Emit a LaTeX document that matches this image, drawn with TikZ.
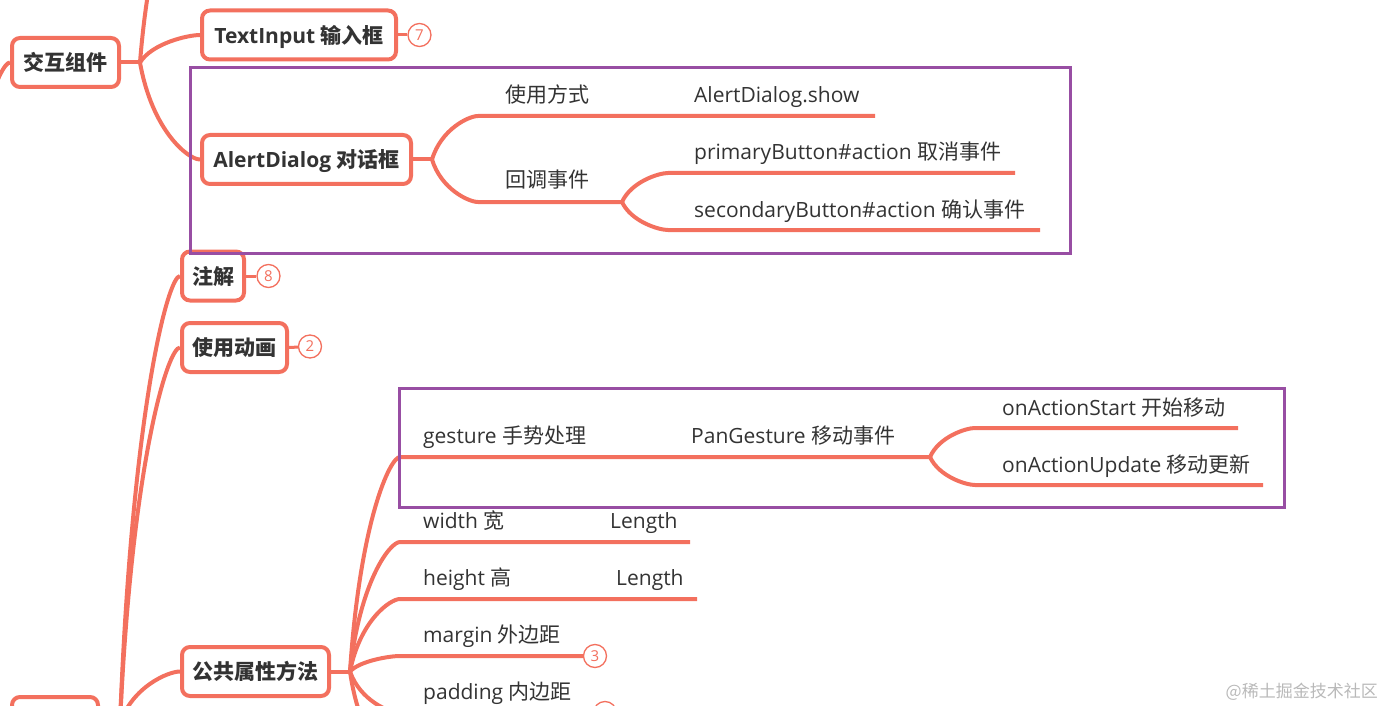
\documentclass[tikz,border=0pt]{standalone}
\usepackage{fontspec}
\setmainfont{Open Sans}
\newfontfamily\zh{Noto Sans CJK SC}
\usetikzlibrary{calc}
\definecolor{mindred}{RGB}{243,112,94}
\definecolor{boxpurple}{RGB}{152,78,163}
\definecolor{inkgray}{RGB}{51,51,51}
\definecolor{markgray}{RGB}{185,185,185}

\begin{document}
\begin{tikzpicture}[x=1pt,y=-1pt,
    branch/.style={draw=mindred,line width=4pt},
    mind/.style={to path={let \p1=(\tikztostart),\p2=(\tikztotarget) in
      .. controls ({\x1+0.2*(\x2-\x1)},{\y2+0.3*(\y1-\y2)}) and ({\x2-0.2*(\x2-\x1)},\y2) .. (\tikztotarget)}},
    badge/.style={circle,draw=mindred,line width=1.3pt,fill=white,minimum size=23pt,inner sep=0pt,
      text=mindred,font=\fontsize{15}{18}\selectfont,text height=10.7pt,text depth=0pt}]

  \useasboundingbox (0,0) rectangle (1382,706);
  \clip (0,0) rectangle (1382,706);

  \begin{scope}[every node/.style={draw=mindred,line width=4pt,rounded corners=8pt,fill=white,
      inner sep=0pt,minimum height=49pt,text=inkgray,font=\bfseries\fontsize{21}{25}\selectfont,
      text height=16.5pt,text depth=0pt}]
    \node[minimum width=107pt] (interact)  at (65.5,62.5)   {{\zh 交互组件}};
    \node[minimum width=194pt] (textinput) at (299,35)      {TextInput {\zh 输入框}};
    \node[minimum width=209pt] (alert)     at (306.5,159.5) {AlertDialog {\zh 对话框}};
    \node[minimum width=62pt]  (annot)     at (213,276)     {{\zh 注解}};
    \node[minimum width=105pt] (anim)      at (234.5,347.5) {{\zh 使用动画}};
    \node[minimum width=147pt] (common)    at (255.5,671.5) {{\zh 公共属性方法}};
    \node[minimum width=86pt,minimum height=53pt] (root) at (55,723.5) {};
  \end{scope}

  \begin{scope}[every node/.style={anchor=west,inner sep=0pt,text=inkgray,
      font=\fontsize{21}{25}\selectfont,text height=16pt,text depth=0pt}]
    \node (usage)     at (505,95)   {{\zh 使用方式}};
    \node (show)      at (694,95)   {AlertDialog.show};
    \node (callback)  at (505,180)  {{\zh 回调事件}};
    \node (primary)   at (694,152)  {primaryButton\#action {\zh 取消事件}};
    \node (secondary) at (694,209)  {secondaryButton\#action {\zh 确认事件}};
    \node (gesture)   at (423,435)  {gesture {\zh 手势处理}};
    \node (pan)       at (691,435)  {PanGesture {\zh 移动事件}};
    \node (start)     at (1002,407) {onActionStart {\zh 开始移动}};
    \node (update)    at (1002,464) {onActionUpdate {\zh 移动更新}};
    \node (width)     at (423,520)  {width {\zh 宽}};
    \node (widthlen)  at (610,520)  {Length};
    \node (height)    at (423,577)  {height {\zh 高}};
    \node (heightlen) at (616,577)  {Length};
    \node (margin)    at (423,634)  {margin {\zh 外边距}};
    \node (padding)   at (423,691)  {padding {\zh 内边距}};
  \end{scope}

  % branch points and line ends
  \coordinate (up)      at (-40,300);
  \coordinate (offtop)  at (200,-150);
  \coordinate (ib)      at (140,62.5);
  \coordinate (ab)      at (432,159.5);
  \coordinate (usage-l) at (478,116);
  \coordinate (usage-r) at (875,116);
  \coordinate (cb-l)    at (478,202);
  \coordinate (cb)      at (622,202);
  \coordinate (primary-l)   at (668,173);
  \coordinate (primary-r)   at (1015,173);
  \coordinate (secondary-l) at (668,230);
  \coordinate (secondary-r) at (1040,230);
  \coordinate (rb)      at (120,723.5);
  \coordinate (pb)      at (350,671.5);
  \coordinate (gesture-l) at (400,457);
  \coordinate (pg)        at (930,457);
  \coordinate (start-l)   at (975,428);
  \coordinate (start-r)   at (1238,428);
  \coordinate (update-l)  at (975,485);
  \coordinate (update-r)  at (1263,485);
  \coordinate (width-l)   at (400,542);
  \coordinate (width-r)   at (690,542);
  \coordinate (height-l)  at (400,599);
  \coordinate (height-r)  at (697,599);
  \coordinate (margin-l)  at (400,656);
  \coordinate (padding-l) at (400,713);
  \coordinate (more-l)    at (400,770);

  \node[badge] (b7) at (419.5,35)   {7};
  \node[badge] (b8) at (268.5,276)  {8};
  \node[badge] (b2) at (310,346.5)  {2};
  \node[badge] (b3) at (595,656)    {3};
  \node[badge] (b4) at (605,713)    {};

  % interaction branch
  \draw[branch] (up) to[mind] (interact.west);
  \draw[branch] (interact.east) -- (ib);
  \draw[branch] (ib) to[mind] (offtop);
  \draw[branch] (ib) to[mind] (textinput.west);
  \draw[branch] (ib) to[mind] (alert.west);
  \draw[branch] (alert.east) -- (ab);
  \draw[branch] (ab) to[mind] (usage-l) -- (usage-r);
  \draw[branch] (ab) to[mind] (cb-l) -- (cb);
  \draw[branch] (cb) to[mind] (primary-l) -- (primary-r);
  \draw[branch] (cb) to[mind] (secondary-l) -- (secondary-r);

  % root branch
  \draw[branch] (root.east) -- (rb);
  \draw[branch] (rb) to[mind] (annot.west);
  \draw[branch] (rb) to[mind] (anim.west);
  \draw[branch] (rb) to[mind] (common.west);
  \draw[branch] (common.east) -- (pb);
  \draw[branch] (pb) to[mind] (gesture-l) -- (pg);
  \draw[branch] (pg) to[mind] (start-l) -- (start-r);
  \draw[branch] (pg) to[mind] (update-l) -- (update-r);
  \draw[branch] (pb) to[mind] (width-l) -- (width-r);
  \draw[branch] (pb) to[mind] (height-l) -- (height-r);
  \draw[branch] (pb) to[mind] (margin-l) -- (b3.west);
  \draw[branch] (pb) to[mind] (padding-l) -- (b4.west);
  \draw[branch] (pb) to[mind] (more-l);

  % badge links
  \draw[mindred,line width=3pt] (textinput.east) -- (b7);
  \draw[mindred,line width=3pt] (annot.east) -- (b8);
  \draw[mindred,line width=3pt] (anim.east) -- (b2);

  % purple frames
  \draw[boxpurple,line width=3pt] (190,68) rectangle (1070,253);
  \draw[boxpurple,line width=3pt] (399,388) rectangle (1284,507);

  \node[anchor=base east,inner sep=0pt,text=markgray,font=\zh\fontsize{17}{20}\selectfont] (mark)
    at (1378,697) {@稀土掘金技术社区};
\end{tikzpicture}
\end{document}
